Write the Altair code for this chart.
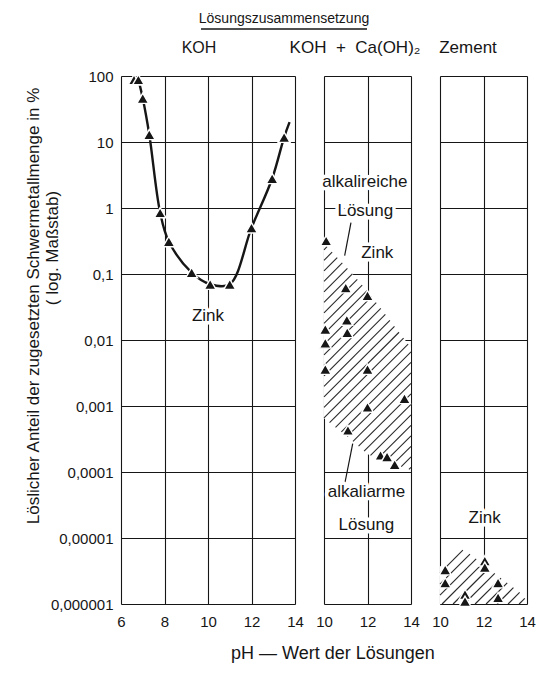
import json
import math
import altair as alt
import pandas as pd

SANS = "Liberation Sans, Arial, sans-serif"
INK = "#161616"
NBSP = "\u00a0"

# ---------------- data ----------------
# KOH
koh_ph = [6.6, 6.8, 7.0, 7.3, 7.8, 8.2, 9.25, 10.1, 11.0, 12.0, 12.95, 13.5]
koh_val = [88, 88, 46, 13, 0.85, 0.31, 0.105, 0.07, 0.07, 0.5, 2.8, 11.8]
koh_curve_ph = [6.8, 7.0, 7.3, 7.8, 8.2, 9.25, 10.1, 11.0, 12.0, 12.95, 13.5, 13.75]
koh_curve_val = [88, 46, 13, 0.85, 0.31, 0.105, 0.07, 0.07, 0.5, 2.8, 11.8, 20]

# KOH + Ca(OH)2
ca_ph = [10.1, 11.0, 12.0, 11.05, 11.07, 10.06, 10.06, 10.06, 12.0, 12.0, 13.7, 11.1, 12.6, 12.9, 13.25]
ca_val = [0.32, 0.062, 0.047, 0.02, 0.013, 0.0145, 0.009, 0.0036, 0.0036, 0.00096, 0.0013,
          0.00043, 0.00018, 0.00017, 0.00013]
ca_band_ph = [10, 11.2, 12, 14]
ca_band_top = [0.29, 0.11, 0.055, 0.0076]
ca_band_bottom = [0.00065, 0.00032, 0.000186, 0.000107]

# Zement
zem_ph = [10.24, 10.24, 12.06, 12.06, 12.67, 12.67, 11.15, 11.15]
zem_val = [3.3e-6, 2.1e-6, 4.5e-6, 3.6e-6, 2.1e-6, 1.25e-6, 1.4e-6, 1.1e-6]
zem_band_ph = [10, 11.1, 13.9]
zem_band_top = [3.7e-6, 6.7e-6, 1.3e-6]
zem_band_bottom = [1e-6, 1e-6, 1e-6]

# annotations
koh_note_text = ["Zink"]
koh_note_ph = [10.0]
koh_note_val = [0.023]
ca_note_text = ["alkalireiche", "Lösung", "Zink", "alkaliarme", "Lösung"]
ca_note_ph = [11.88, 11.9, 12.45, 11.95, 11.95]
ca_note_val = [2.45, 0.9, 0.21, 5.0e-5, 1.58e-5]
ca_lead_ph = [11.24, 10.94]
ca_lead_val = [0.6, 6.3e-5]
ca_lead_ph2 = [10.95, 11.32]
ca_lead_val2 = [0.19, 2.7e-4]
zem_note_text = ["Zink"]
zem_note_ph = [12.05]
zem_note_val = [2.0e-5]

# axes
y_ticks = [1e-6, 1e-5, 1e-4, 1e-3, 1e-2, 1e-1, 1, 10, 100]
y_tick_labels = ["0,000001", "0,00001", "0,0001", "0,001", "0,01", "0,1", "1", "10", "100"]
x1_ticks = [6, 8, 10, 12, 14]
x23_ticks = [10, 12, 14]

# ---------------- geometry ----------------
PX_PER_PH = 21.75
PX_PER_DEC = 66.0
W1 = 8 * PX_PER_PH
W23 = 4 * PX_PER_PH
H = 8 * PX_PER_DEC

label_expr = f"{json.dumps(y_tick_labels)}[indexof({json.dumps(y_ticks)}, datum.value)]"


def hatch(xs, top, bottom, step):
    """Diagonal hatch segments clipped to the band between top and bottom."""
    poly = [(x, t) for x, t in zip(xs, top)] + [(x, b) for x, b in zip(xs[::-1], bottom[::-1])]
    pts = [(p * PX_PER_PH, -math.log10(v) * PX_PER_DEC) for p, v in poly]
    s = [a + b for a, b in pts]
    rows = []
    c = min(s) + step * 0.6
    n = len(pts)
    while c < max(s):
        inter = []
        for i in range(n):
            (x1, y1), (x2, y2) = pts[i], pts[(i + 1) % n]
            s1, s2 = x1 + y1, x2 + y2
            if (s1 - c) * (s2 - c) < 0:
                t = (c - s1) / (s2 - s1)
                inter.append((x1 + t * (x2 - x1), y1 + t * (y2 - y1)))
        inter.sort()
        for a, b in zip(inter[0::2], inter[1::2]):
            rows.append({
                "ph": a[0] / PX_PER_PH, "v": 10 ** (-a[1] / PX_PER_DEC),
                "ph2": b[0] / PX_PER_PH, "v2": 10 ** (-b[1] / PX_PER_DEC),
            })
        c += step
    return pd.DataFrame(rows)


def scales(domain, ticks, show_y):
    xs = alt.Scale(domain=domain, nice=False, zero=False)
    xa = alt.Axis(values=ticks, title=None, grid=True, ticks=False, domain=False,
                  labelPadding=10, labelFont=SANS, labelFontSize=15, labelColor=INK,
                  gridColor=INK, gridWidth=1.1, labelFlush=False)
    ys = alt.Scale(type="log", domain=[1e-6, 100], nice=False)
    if show_y:
        ya = alt.Axis(values=y_ticks, labelExpr=label_expr, title=None, grid=True, ticks=False,
                      domain=False, labelPadding=8, labelFont=SANS, labelFontSize=15,
                      labelColor=INK, gridColor=INK, gridWidth=1.1, labelFlush=False)
    else:
        ya = alt.Axis(values=y_ticks, labels=False, title=None, grid=True, ticks=False,
                      domain=False, gridColor=INK, gridWidth=1.1)
    return xs, xa, ys, ya


def enc_xy(xs, xa, ys, ya, xf="ph", yf="v"):
    return dict(x=alt.X(f"{xf}:Q", scale=xs, axis=xa), y=alt.Y(f"{yf}:Q", scale=ys, axis=ya))


def markers(ph, val, xs, xa, ys, ya):
    df = pd.DataFrame({"ph": ph, "v": val})
    return alt.Chart(df).mark_point(shape="triangle-up", filled=True, size=140, color=INK,
                                    stroke="white", strokeWidth=1.4, opacity=1).encode(
        **enc_xy(xs, xa, ys, ya))


def notes(texts, ph, val, xs, xa, ys, ya):
    df = pd.DataFrame({"t": texts, "ph": ph, "v": val})
    halo = alt.Chart(df).mark_text(font=SANS, fontSize=17, color="white", stroke="white",
                                   strokeWidth=7, strokeJoin="round").encode(
        text="t:N", **enc_xy(xs, xa, ys, ya))
    txt = alt.Chart(df).mark_text(font=SANS, fontSize=17, color=INK).encode(
        text="t:N", **enc_xy(xs, xa, ys, ya))
    return [halo, txt]


def band(bph, btop, bbot, xs, xa, ys, ya, step):
    df = pd.DataFrame({"ph": bph, "v": btop, "v2": bbot})
    area = alt.Chart(df).mark_area(color="white", opacity=1, interpolate="linear").encode(
        x=alt.X("ph:Q", scale=xs, axis=xa), y=alt.Y("v:Q", scale=ys, axis=ya), y2="v2:Q")
    hd = hatch(bph, btop, bbot, step)
    lines = alt.Chart(hd).mark_rule(color="#2a2a2a", strokeWidth=1.1).encode(
        x=alt.X("ph:Q", scale=xs, axis=xa), x2="ph2:Q",
        y=alt.Y("v:Q", scale=ys, axis=ya), y2="v2:Q")
    return [area, lines]


def place_text(text, x, y, size=17, font=SANS, angle=0):
    return alt.Chart(pd.DataFrame({"t": [text]})).mark_text(
        font=font, fontSize=size, angle=angle, color=INK, align="center", baseline="middle"
    ).encode(text="t:N", x=alt.value(x), y=alt.value(y))


# ---------------- panel 1: KOH ----------------
xs, xa, ys, ya = scales([6, 14], x1_ticks, True)
curve = alt.Chart(pd.DataFrame({"ph": koh_curve_ph, "v": koh_curve_val})).mark_line(
    color=INK, strokeWidth=2.4, interpolate="catmull-rom").encode(**enc_xy(xs, xa, ys, ya))
underline = alt.Chart(pd.DataFrame({"a": [0]})).mark_rule(color=INK, strokeWidth=1.3).encode(
    x=alt.value(80), x2=alt.value(246), y=alt.value(-47))
p1 = alt.layer(
    curve,
    markers(koh_ph, koh_val, xs, xa, ys, ya),
    *notes(koh_note_text, koh_note_ph, koh_note_val, xs, xa, ys, ya),
    place_text("Lösungszusammensetzung", 163, -57, size=14),
    underline,
    place_text("KOH", 78, -28, size=16),
    place_text("Löslicher Anteil der zugesetzten Schwermetallmenge in %", -87, 230, size=17, angle=270),
    place_text("( log. Maßstab)", -68, 172, size=17, angle=270),
    place_text("pH — Wert der Lösungen", 212, H + 50, size=18),
).properties(width=W1, height=H)

# ---------------- panel 2: KOH + Ca(OH)2 ----------------
xs, xa, ys, ya = scales([10, 14], x23_ticks, False)
leaders = alt.Chart(pd.DataFrame({"ph": ca_lead_ph, "v": ca_lead_val,
                                  "ph2": ca_lead_ph2, "v2": ca_lead_val2})).mark_rule(
    color=INK, strokeWidth=1.2).encode(
    x=alt.X("ph:Q", scale=xs, axis=xa), x2="ph2:Q", y=alt.Y("v:Q", scale=ys, axis=ya), y2="v2:Q")
p2 = alt.layer(
    *band(ca_band_ph, ca_band_top, ca_band_bottom, xs, xa, ys, ya, 10.5),
    leaders,
    markers(ca_ph, ca_val, xs, xa, ys, ya),
    *notes(ca_note_text, ca_note_ph, ca_note_val, xs, xa, ys, ya),
    place_text(f"KOH{NBSP}{NBSP}+{NBSP}{NBSP}Ca(OH)₂", 31, -28, size=17),
).properties(width=W23, height=H)

# ---------------- panel 3: Zement ----------------
xs, xa, ys, ya = scales([10, 14], x23_ticks, False)
p3 = alt.layer(
    *band(zem_band_ph, zem_band_top, zem_band_bottom, xs, xa, ys, ya, 11),
    markers(zem_ph, zem_val, xs, xa, ys, ya),
    *notes(zem_note_text, zem_note_ph, zem_note_val, xs, xa, ys, ya),
    place_text("Zement", 28, -28, size=17),
).properties(width=W23, height=H)

chart = alt.hconcat(
    p1, p2, p3, spacing=29, bounds="flush",
    padding={"left": 16, "top": 3, "right": 0, "bottom": 0},
).resolve_scale(x="independent", y="independent").configure_view(
    stroke=INK, strokeWidth=1.8
).configure(background="white")

chart.save("out.html", embed_options={"renderer": "svg", "actions": False})
